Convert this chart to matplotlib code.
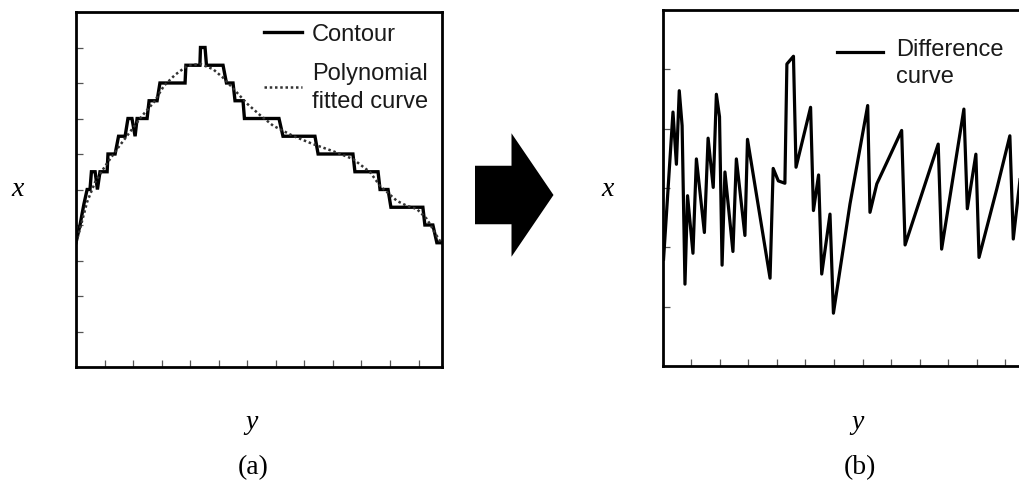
"""
Contour vs polynomial fit (a) and the resulting difference curve (b)
"""
import matplotlib
matplotlib.use('Agg')
import matplotlib.pyplot as plt
from matplotlib.patches import FancyArrow
from matplotlib.legend_handler import HandlerLine2D

# (a) contour (horizontal y, vertical x)
contour_y = [0.00, 0.14, 0.28, 0.39, 0.49, 0.54, 0.67, 0.75, 0.84, 1.09, 1.12, 1.37,
             1.49, 1.72, 1.82, 1.96, 2.07, 2.14, 2.49, 2.56, 2.84, 2.94, 3.82, 3.85,
             4.34, 4.36, 4.52, 4.57, 5.15, 5.27, 5.50, 5.57, 5.85, 5.90, 7.11, 7.25,
             8.37, 8.48, 9.70, 9.77, 10.58, 10.65, 10.93, 11.03, 12.15, 12.22, 12.50,
             12.64, 12.82]
contour_x = [3.5, 4.0, 4.6, 5.0, 5.0, 5.5, 5.5, 5.0, 5.5, 5.5, 6.0, 6.0,
             6.5, 6.5, 7.0, 7.0, 6.5, 7.0, 7.0, 7.5, 7.5, 8.0, 8.0, 8.5,
             8.5, 9.0, 9.0, 8.5, 8.5, 8.0, 8.0, 7.5, 7.5, 7.0, 7.0, 6.5,
             6.5, 6.0, 6.0, 5.5, 5.5, 5.0, 5.0, 4.5, 4.5, 4.0, 4.0,
             3.5, 3.5]

# (a) polynomial fitted curve
fit_y = [0.00, 0.14, 0.39, 0.67, 1.02, 1.44, 1.89, 2.31, 2.73, 3.08, 3.47, 3.89,
         4.34, 4.80, 5.15, 5.50, 5.99, 6.44, 6.90, 7.60, 8.30, 9.00, 9.70, 10.30,
         10.65, 11.24, 11.59, 11.94, 12.29, 12.64, 12.82]
fit_x = [3.49, 3.89, 4.65, 5.21, 5.66, 6.14, 6.62, 7.07, 7.46, 7.92, 8.23, 8.48,
         8.54, 8.39, 8.15, 7.85, 7.42, 7.10, 6.80, 6.51, 6.28, 6.08, 5.86, 5.49,
         5.10, 4.68, 4.54, 4.45, 4.17, 3.69, 3.46]

# (b) difference curve
diff_y = [0.03, 0.36, 0.48, 0.58, 0.68, 0.78, 0.87, 1.06, 1.18, 1.46, 1.59, 1.77,
          1.88, 1.99, 2.08, 2.18, 2.46, 2.58, 2.88, 2.97, 3.76, 3.87, 4.05, 4.28,
          4.35, 4.58, 4.67, 5.18, 5.28, 5.46, 5.57, 5.86, 5.98, 6.56, 7.18, 7.26,
          7.50, 7.85, 8.37, 8.49, 9.65, 9.77, 10.55, 10.67, 10.97, 11.08, 11.70,
          12.16, 12.28, 12.60]
diff_x = [1.80, 4.28, 3.40, 4.64, 4.05, 1.38, 2.87, 1.90, 3.49, 2.25, 3.84, 3.01,
          4.58, 4.20, 1.70, 3.27, 1.93, 3.49, 2.20, 3.82, 1.48, 3.33, 3.12, 3.08,
          5.09, 5.22, 3.35, 4.36, 2.62, 3.22, 1.55, 2.56, 0.89, 2.73, 4.39, 2.59,
          3.07, 3.43, 3.97, 2.04, 3.74, 1.97, 4.33, 2.65, 3.57, 1.83, 2.98,
          3.88, 2.14, 3.50]

W, H = 1020, 489
serif = 'Liberation Serif'
sans = 'Liberation Sans'


class RaisedLine(HandlerLine2D):
    """legend line sitting next to the first text line instead of the middle"""
    def create_artists(self, legend, orig_handle, xdescent, ydescent,
                       width, height, fontsize, trans):
        arts = super().create_artists(legend, orig_handle, xdescent, ydescent,
                                      width, height, fontsize, trans)
        for a in arts:
            a.set_ydata([y + 7.5 for y in a.get_ydata()])
        return arts


fig = plt.figure(figsize=(W / 100, H / 100), dpi=100)

ax1 = fig.add_axes([76 / W, (H - 368) / H, 366 / W, 355 / H])
ax2 = fig.add_axes([662.7 / W, (H - 367) / H, 366 / W, 356 / H])


def style_axes(ax, ymax, yticks):
    ax.set_xlim(0, 12.82)
    ax.set_ylim(0, ymax)
    ax.set_xticks(range(1, 13))
    ax.set_yticks(yticks)
    ax.tick_params(direction='in', length=5, width=0.9, color='#555555',
                   labelbottom=False, labelleft=False)
    for s in ax.spines.values():
        s.set_linewidth(2.0)
        s.set_color('black')


# Panel (a)
ax1.plot(contour_y, contour_x, color='black', linewidth=2.4,
         solid_joinstyle='miter', label='Contour')
ax1.plot(fit_y, fit_x, color='#333333', linewidth=1.8,
         linestyle=(0, (1, 1.1)), label='Polynomial\nfitted curve')
style_axes(ax1, 10, range(1, 10))
leg1 = ax1.legend(loc='upper left', bbox_to_anchor=(0.514, 0.968), frameon=False,
                  prop={'family': sans, 'size': 17}, handlelength=1.6,
                  handletextpad=0.42, borderpad=0, borderaxespad=0, labelspacing=0.72)
for t in leg1.get_texts():
    t.set_color('#1a1a1a')
    t.set_linespacing(1.32)

# Panel (b)
diff_line, = ax2.plot(diff_y, diff_x, color='black', linewidth=2.3,
                      label='Difference\ncurve')
style_axes(ax2, 6, range(1, 6))
leg2 = ax2.legend(loc='upper left', bbox_to_anchor=(0.476, 0.922), frameon=False,
                  prop={'family': sans, 'size': 17}, handlelength=1.95,
                  handletextpad=0.55, borderpad=0, borderaxespad=0,
                  handler_map={diff_line: RaisedLine()})
for t in leg2.get_texts():
    t.set_color('#1a1a1a')
    t.set_linespacing(1.32)

# Block arrow between the panels (in inches from lower left)
arrow = FancyArrow(4.75, (H - 196) / 100, 0.785, 0, width=0.585, head_width=1.235,
                   head_length=0.42, length_includes_head=True,
                   transform=fig.dpi_scale_trans, color='black', linewidth=0)
fig.add_artist(arrow)

# Axis names and panel captions
for px, py, txt, ital in [(18, 190, 'x', True), (608, 190, 'x', True),
                          (252, 423, 'y', True), (858, 423, 'y', True),
                          (253, 468, '(a)', False), (860, 468, '(b)', False)]:
    fig.text(px / W, 1 - py / H, txt, ha='center', va='center', fontsize=20,
             family=serif, style='italic' if ital else 'normal', color='black')

fig.savefig('out.png', dpi=100)
